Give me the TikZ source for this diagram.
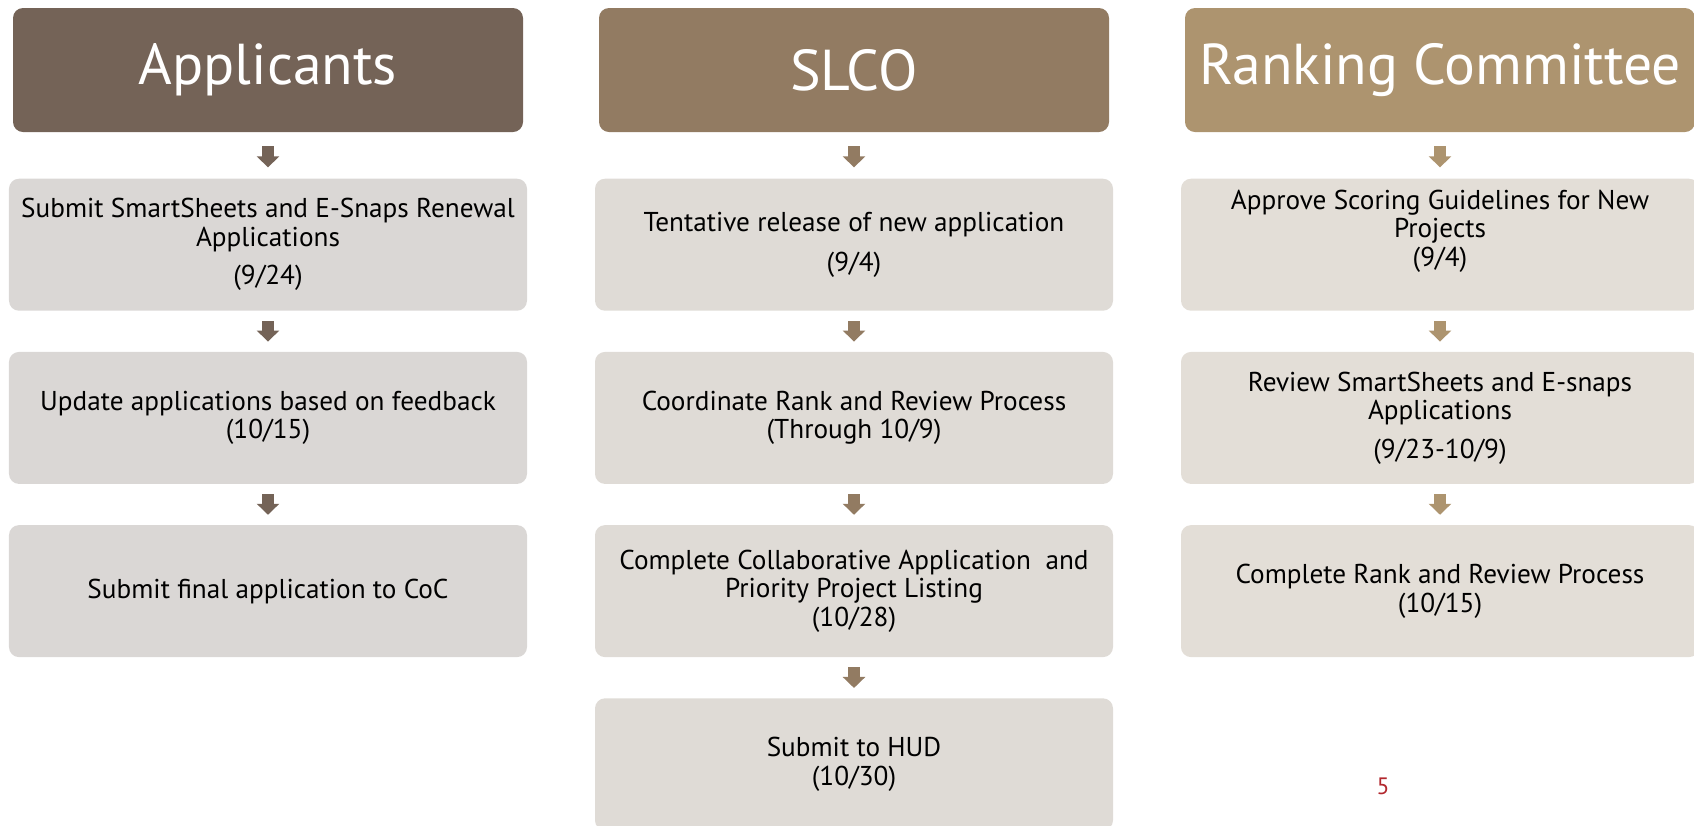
\documentclass[tikz,border=0pt]{standalone}
\usepackage{fontspec}
\setmainfont{PT Sans}
\usetikzlibrary{arrows.meta, positioning}

\definecolor{hdrApp}{RGB}{116,99,87}
\definecolor{hdrSlco}{RGB}{146,123,98}
\definecolor{hdrRank}{RGB}{173,148,111}
\definecolor{boxApp}{RGB}{218,215,213}
\definecolor{boxSlco}{RGB}{223,219,214}
\definecolor{boxRank}{RGB}{227,222,215}
\definecolor{pagered}{RGB}{178,40,46}

\begin{document}
\begin{tikzpicture}[
    node distance=0.81cm, % vertical spacing between task boxes
    header/.style={rectangle, rounded corners=0.2cm, minimum width=10.2cm, minimum height=2.48cm, text=white, font=\fontsize{32.8}{38}\selectfont},
    task/.style={rectangle, rounded corners=0.2cm, minimum width=10.36cm, minimum height=2.64cm, align=center, font=\fontsize{15.5}{16.2}\selectfont},
    flow/.style={line width=0.24cm, -{Triangle[width=0.44cm,length=0.22cm]}, shorten <=0.2cm, shorten >=0.2cm},
    firstflow/.style={flow, shorten <=0.28cm, shorten >=0.22cm},
    pagenum/.style={text=pagered, font=\fontsize{13.5}{15}\selectfont}
]
\useasboundingbox (0,0) rectangle (33.88,-16.5);

% Headers
\node[header, fill=hdrApp] (applicants) at (5.36,-1.4) {Applicants};
\node[header, fill=hdrSlco] (slco) at (17.08,-1.4) {SLCO};
\node[header, fill=hdrRank] (committee) at (28.8,-1.4) {Ranking Committee};

% Applicants column
\node[task, fill=boxApp, below=0.92cm of applicants] (appSubmit) {Submit SmartSheets and E-Snaps Renewal\\Applications\\[0.2cm](9/24)};
\node[task, fill=boxApp, below=of appSubmit] (appUpdate) {Update applications based on feedback\\(10/15)};
\node[task, fill=boxApp, below=of appUpdate] (appFinal) {Submit final application to CoC};

% SLCO column
\node[task, fill=boxSlco, below=0.92cm of slco] (slcoRelease) {Tentative release of new application\\[0.24cm](9/4)};
\node[task, fill=boxSlco, below=of slcoRelease] (slcoCoord) {Coordinate Rank and Review Process\\(Through 10/9)};
\node[task, fill=boxSlco, below=of slcoCoord] (slcoCollab) {Complete Collaborative Application\ \ and\\Priority Project Listing\\(10/28)};
\node[task, fill=boxSlco, below=of slcoCollab] (slcoHud) {Submit to HUD\\(10/30)};

% Ranking Committee column
\node[task, fill=boxRank, below=0.92cm of committee] (rankGuide) {Approve Scoring Guidelines for New\\Projects\\(9/4)\\[0.1cm]\mbox{}};
\node[task, fill=boxRank, below=of rankGuide] (rankReview) {Review SmartSheets and E-snaps\\Applications\\[0.2cm](9/23-10/9)};
\node[task, fill=boxRank, below=of rankReview] (rankDone) {Complete Rank and Review Process\\(10/15)};

\node[pagenum] (pnum) at (27.66,-15.72) {5};

% Arrows
\draw[firstflow, color=hdrApp] (applicants) -- (appSubmit);
\draw[flow, color=hdrApp] (appSubmit) -- (appUpdate);
\draw[flow, color=hdrApp] (appUpdate) -- (appFinal);

\draw[firstflow, color=hdrSlco] (slco) -- (slcoRelease);
\draw[flow, color=hdrSlco] (slcoRelease) -- (slcoCoord);
\draw[flow, color=hdrSlco] (slcoCoord) -- (slcoCollab);
\draw[flow, color=hdrSlco] (slcoCollab) -- (slcoHud);

\draw[firstflow, color=hdrRank] (committee) -- (rankGuide);
\draw[flow, color=hdrRank] (rankGuide) -- (rankReview);
\draw[flow, color=hdrRank] (rankReview) -- (rankDone);

\end{tikzpicture}
\end{document}
